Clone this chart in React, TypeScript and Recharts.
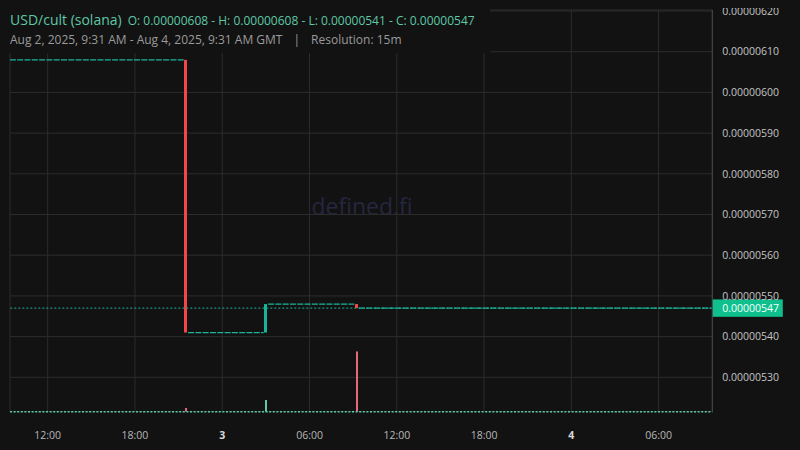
import React from 'react';
import {
  ComposedChart,
  Bar,
  Line,
  XAxis,
  YAxis,
  CartesianGrid,
  ReferenceLine,
  Cell,
} from 'recharts';

// ---- data (time = hours since Aug 2, 2025 00:00 GMT) ----
const candleTimes = [21.5, 27.0, 33.25];
const candleOpen = [0.00000608, 0.00000541, 0.00000548];
const candleClose = [0.00000541, 0.00000548, 0.00000547];
const candleVolume = [100, 315, 1620];

// runs of flat (open = close) 15m candles
const runStart = [9.5, 21.75, 27.25, 33.5];
const runEnd = [21.25, 26.75, 33.0, 57.5];
const runPrice = [0.00000608, 0.00000541, 0.00000548, 0.00000547];

const xTicks = [12, 18, 24, 30, 36, 42, 48, 54];
const xTickLabels = ['12:00', '18:00', '3', '06:00', '12:00', '18:00', '4', '06:00'];
const yTicks = [
  0.0000053, 0.0000054, 0.0000055, 0.0000056, 0.0000057,
  0.0000058, 0.0000059, 0.000006, 0.0000061, 0.0000062,
];
const lastPrice = 0.00000547;

// ---- style ----
const BG = '#121212';
const UP = '#17b597';
const DOWN = '#f0474a';
const UP_VOL = '#5ccaa9';
const DOWN_VOL = '#e5677a';
const FLAT = '#1bb59c';
const FONT = '"Open Sans", "Noto Sans", sans-serif';

const candles = candleTimes.map((t, i) => ({
  t,
  body: [Math.min(candleOpen[i], candleClose[i]), Math.max(candleOpen[i], candleClose[i])],
  vol: candleVolume[i],
  up: candleClose[i] >= candleOpen[i],
}));

const runs = runStart.map((s, i) => [
  { t: s - 0.1, p: runPrice[i] },
  { t: runEnd[i] + 0.1, p: runPrice[i] },
]);

const CandleShape = (props: any) => {
  const { x, y, width, height, payload } = props;
  const top = Math.min(y, y + height);
  const h = Math.max(Math.abs(height), 1);
  const cx = x + width / 2;
  const w = 3;
  return <rect x={Math.round(cx - w / 2)} y={top} width={w} height={h} fill={payload.up ? UP : DOWN} />;
};

const VolShape = (props: any) => {
  const { x, y, width, height, payload } = props;
  const cx = x + width / 2;
  const w = 2;
  return (
    <rect
      x={Math.round(cx - w / 2)}
      y={y}
      width={w}
      height={Math.max(height, 0)}
      fill={payload.up ? UP_VOL : DOWN_VOL}
    />
  );
};

const XTick = (props: any) => {
  const { x, y, payload } = props;
  const idx = xTicks.indexOf(payload.value);
  const label = idx >= 0 ? xTickLabels[idx] : '';
  const bold = label.length === 1;
  return (
    <text
      x={x}
      y={y}
      dy="0.71em"
      textAnchor="middle"
      fontSize={10.5}
      fontFamily={FONT}
      fontWeight={bold ? 700 : 400}
      fill={bold ? '#d8d8d8' : '#b8b8b8'}
    >
      {label}
    </text>
  );
};

const YTick = (props: any) => {
  const { x, y, payload } = props;
  return (
    <text x={x} y={y} dy="0.355em" textAnchor="start" fontSize={10.5} fontFamily={FONT} fill="#c4c4c4">
      {Number(payload.value).toFixed(8)}
    </text>
  );
};

const PriceTag = (props: any) => {
  const vb = props.viewBox || {};
  const x0 = vb.x + vb.width;
  const y0 = vb.y;
  return (
    <g>
      <rect x={x0} y={y0 - 8.7} width={70.5} height={17.4} fill="#10bf8e" />
      <text x={x0 + 10} y={y0} dy="0.355em" fontSize={10.5} fontFamily={FONT} fill="#f4fffb">
        {lastPrice.toFixed(8)}
      </text>
    </g>
  );
};

export default function App() {
  return (
    <div
      style={{
        position: 'fixed',
        left: 0,
        top: 0,
        width: 800,
        height: 450,
        background: BG,
        overflow: 'hidden',
        fontFamily: FONT,
      }}
    >
      <div
        style={{
          position: 'absolute',
          left: 362,
          top: 206,
          transform: 'translate(-50%, -50%)',
          fontSize: 23,
          color: '#26263f',
          whiteSpace: 'nowrap',
        }}
      >
        defined.fi
      </div>
      <div style={{ position: 'absolute', left: 0, top: 8 }}>
        <ComposedChart
          width={800}
          height={442}
          data={candles}
          margin={{ top: 2, right: 7.7, bottom: 8.3, left: 10 }}
        >
          <CartesianGrid stroke="#2c2c2c" xAxisId="main" yAxisId="price" />
          <XAxis
            xAxisId="main"
            dataKey="t"
            type="number"
            domain={[9.408, 57.69]}
            allowDataOverflow
            ticks={xTicks}
            interval={0}
            axisLine={false}
            tickLine={false}
            tickSize={0}
            tickMargin={20}
            height={30}
            tick={<XTick />}
          />
          <XAxis
            xAxisId="vol"
            dataKey="t"
            type="number"
            domain={[9.408, 57.69]}
            allowDataOverflow
            hide
          />
          <YAxis
            yAxisId="price"
            orientation="right"
            type="number"
            domain={[0.0000052155, 0.0000062025]}
            allowDataOverflow
            ticks={yTicks}
            interval={0}
            width={80}
            axisLine={{ stroke: '#4a4a4a' }}
            tickLine={false}
            tickSize={0}
            tickMargin={10}
            tick={<YTick />}
          />
          <YAxis yAxisId="volY" type="number" domain={[0, 10800]} allowDataOverflow hide />

          <ReferenceLine
            xAxisId="vol"
            yAxisId="volY"
            y={0}
            stroke={UP_VOL}
            strokeWidth={1.5}
            strokeDasharray="2 1.6"
          />
          <Bar
            xAxisId="vol"
            yAxisId="volY"
            dataKey="vol"
            barSize={2}
            shape={<VolShape />}
            isAnimationActive={false}
          >
            {candles.map((c, i) => (
              <Cell key={i} fill={c.up ? UP_VOL : DOWN_VOL} />
            ))}
          </Bar>

          <ReferenceLine
            xAxisId="main"
            yAxisId="price"
            y={lastPrice}
            stroke={FLAT}
            strokeDasharray="2 2"
            label={<PriceTag />}
          />

          {runs.map((r, i) => (
            <Line
              key={i}
              xAxisId="main"
              yAxisId="price"
              data={r}
              dataKey="p"
              stroke={FLAT}
              strokeWidth={1.2}
              strokeDasharray="6 1.3"
              dot={false}
              activeDot={false}
              isAnimationActive={false}
            />
          ))}

          <Bar
            xAxisId="main"
            yAxisId="price"
            dataKey="body"
            barSize={3}
            shape={<CandleShape />}
            isAnimationActive={false}
          />
        </ComposedChart>
      </div>
      <div
        style={{
          position: 'absolute',
          left: 0,
          top: 0,
          width: 490,
          height: 53,
          background: BG,
        }}
      >
        <div
          style={{
            position: 'absolute',
            left: 10,
            top: 9,
            lineHeight: '20px',
            whiteSpace: 'nowrap',
            color: '#5ec8a6',
          }}
        >
          <span style={{ fontSize: 14 }}>USD/cult (solana)</span>
          <span style={{ fontSize: 12, marginLeft: 6 }}>
            O: 0.00000608 - H: 0.00000608 - L: 0.00000541 - C: 0.00000547
          </span>
        </div>
        <div
          style={{
            position: 'absolute',
            left: 10,
            top: 31,
            lineHeight: '18px',
            fontSize: 12,
            whiteSpace: 'nowrap',
            color: '#9a9a9a',
          }}
        >
          <span>Aug 2, 2025, 9:31 AM - Aug 4, 2025, 9:31 AM GMT</span>
          <span style={{ margin: '0 11px' }}>|</span>
          <span>Resolution: 15m</span>
        </div>
      </div>
    </div>
  );
}
